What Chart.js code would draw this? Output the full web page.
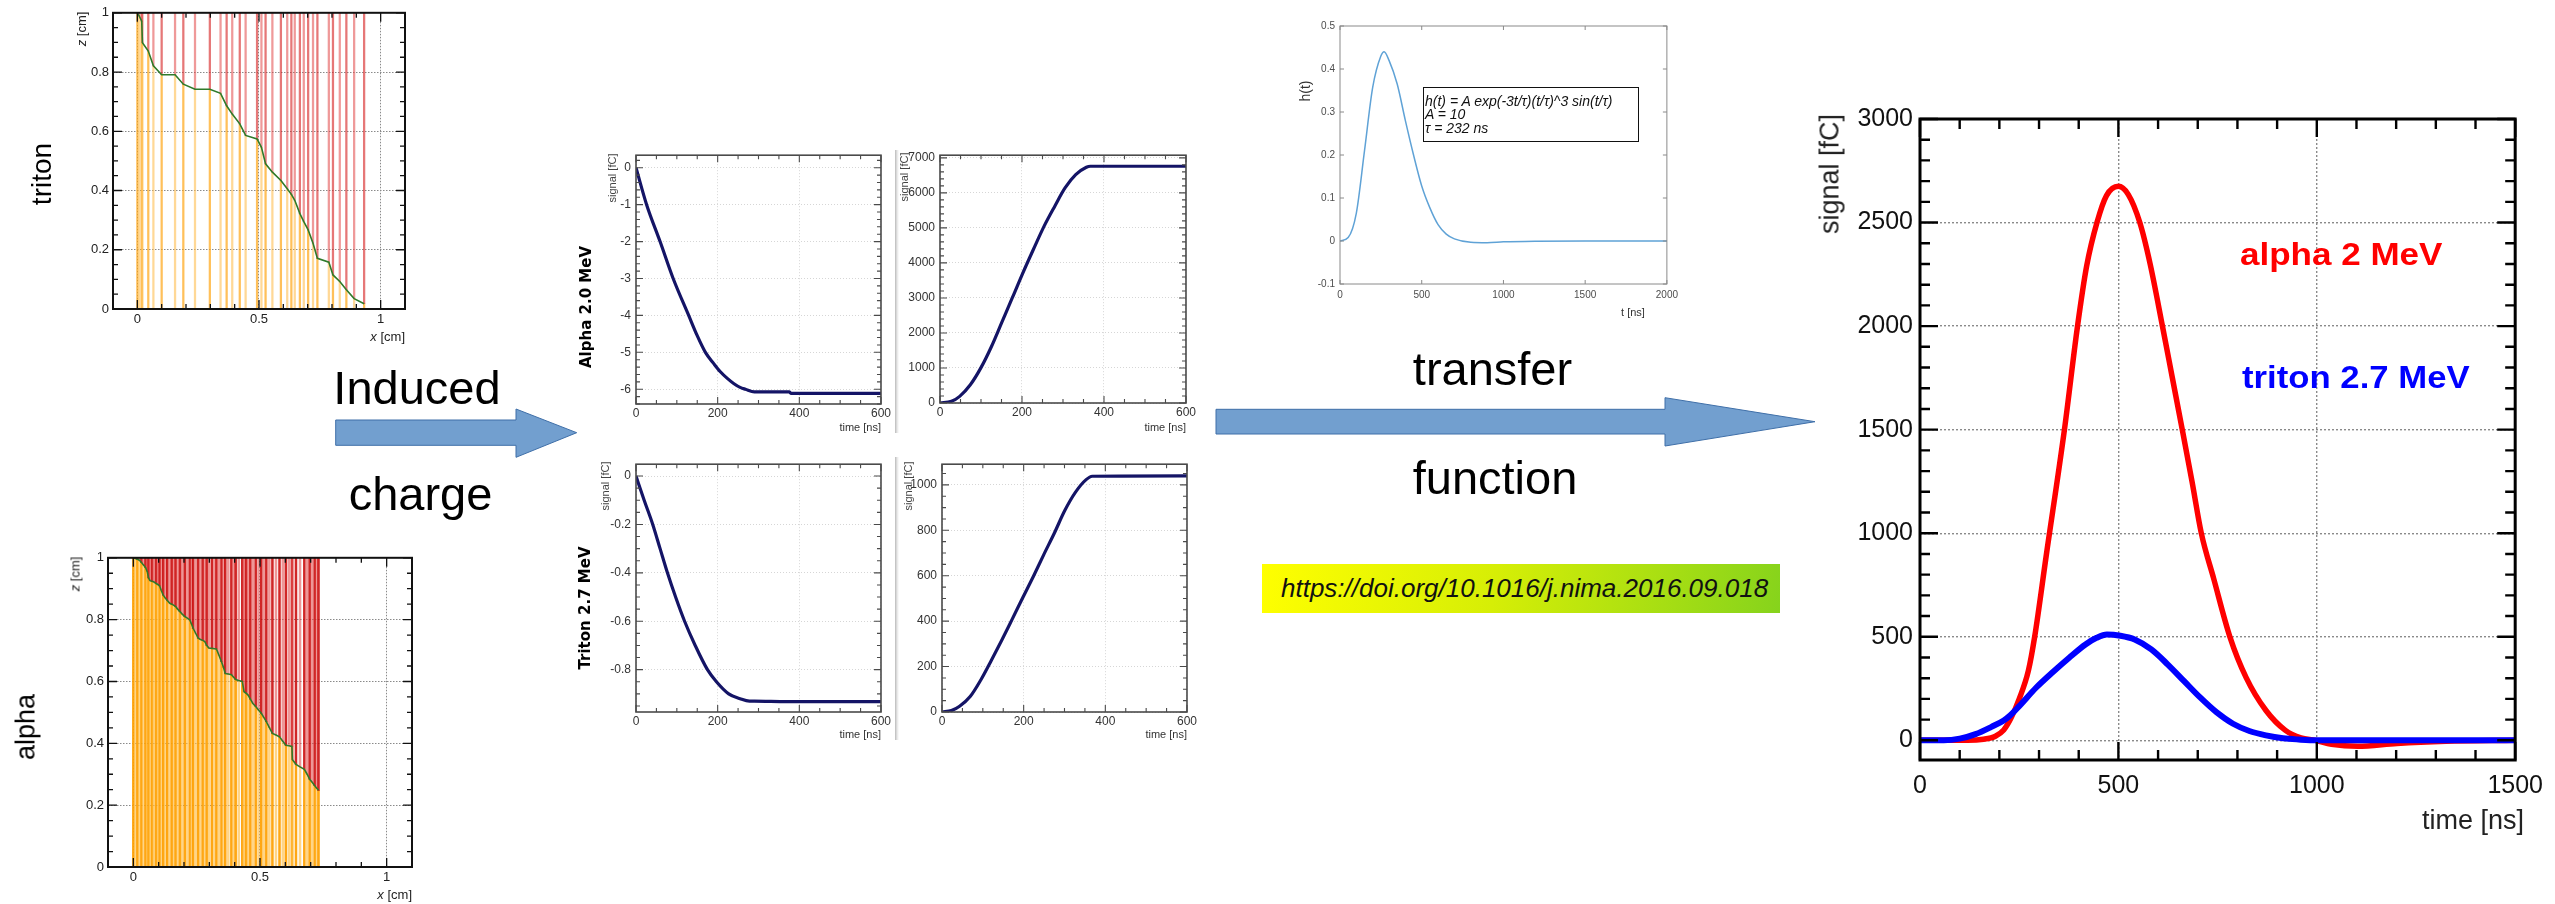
<!DOCTYPE html>
<html>
<head>
<meta charset="utf-8">
<title>Signal formation: induced charge and shaped output</title>
<script src="https://cdn.jsdelivr.net/npm/chart.js@4.4.1/dist/chart.umd.min.js"></script>
<style>
  html, body { margin: 0; padding: 0; background: #fff; }
  #stage { position: relative; width: 2555px; height: 904px; overflow: hidden; background: #fff;
           font-family: 'Liberation Sans', Arial, sans-serif; }
  .pane { position: absolute; }
  .lbl { position: absolute; white-space: nowrap; line-height: 1; }
  svg.arrow { position: absolute; left: 0; top: 0; overflow: visible; }
</style>
</head>
<body>
<div id="stage"></div>
<script>
// ---------- data ----------
// track trajectory in the gas gap: x [cm], z [cm]; drift lines hang off each vertex
const tritonTrackX = [0, 0.008, 0.018, 0.021, 0.045, 0.066, 0.100, 0.155, 0.189, 0.237, 0.298, 0.342, 0.367, 0.390,
  0.421, 0.445, 0.492, 0.510, 0.527, 0.555, 0.590, 0.616, 0.633, 0.647, 0.668, 0.684, 0.702, 0.722, 0.740, 0.787,
  0.804, 0.832, 0.859, 0.891, 0.932];
const tritonTrackZ = [1.000, 0.989, 0.972, 0.899, 0.871, 0.821, 0.791, 0.791, 0.759, 0.742, 0.742, 0.728, 0.686, 0.658,
  0.625, 0.586, 0.574, 0.546, 0.490, 0.462, 0.434, 0.406, 0.387, 0.367, 0.322, 0.295, 0.267, 0.222, 0.171, 0.158,
  0.115, 0.093, 0.065, 0.035, 0.018];

const alphaTrackX = [0, 0.008, 0.016, 0.024, 0.032, 0.040, 0.048, 0.055, 0.060, 0.066, 0.074, 0.081, 0.090, 0.098,
  0.104, 0.110, 0.118, 0.126, 0.134, 0.144, 0.152, 0.160, 0.167, 0.175, 0.184, 0.193, 0.203, 0.213, 0.223, 0.230,
  0.236, 0.246, 0.256, 0.265, 0.274, 0.282, 0.290, 0.298, 0.310, 0.320, 0.328, 0.338, 0.348, 0.356, 0.363, 0.375,
  0.387, 0.396, 0.404, 0.416, 0.430, 0.437, 0.445, 0.453, 0.462, 0.472, 0.483, 0.494, 0.505, 0.515, 0.525, 0.537,
  0.549, 0.563, 0.577, 0.590, 0.602, 0.614, 0.626, 0.628, 0.642, 0.658, 0.675, 0.686, 0.696, 0.706, 0.716, 0.724, 0.731];
const alphaTrackZ = [1.000, 0.998, 0.995, 0.992, 0.985, 0.977, 0.969, 0.955, 0.935, 0.926, 0.924, 0.922, 0.917, 0.913,
  0.909, 0.895, 0.879, 0.870, 0.862, 0.853, 0.850, 0.846, 0.842, 0.834, 0.826, 0.818, 0.810, 0.805, 0.799, 0.785,
  0.772, 0.756, 0.740, 0.736, 0.733, 0.729, 0.716, 0.708, 0.707, 0.706, 0.705, 0.685, 0.664, 0.645, 0.626, 0.624,
  0.622, 0.614, 0.606, 0.603, 0.600, 0.567, 0.562, 0.556, 0.543, 0.529, 0.519, 0.508, 0.497, 0.484, 0.470, 0.451,
  0.432, 0.427, 0.421, 0.407, 0.394, 0.392, 0.390, 0.347, 0.332, 0.324, 0.316, 0.300, 0.284, 0.274, 0.263, 0.255, 0.248];

// induced charge on the electrode, time [ns] vs signal
const alphaNegT = [0, 26, 59, 91, 129, 150, 170, 190, 206, 225, 240, 255, 268, 290, 375, 380, 600];
const alphaNegQ = [0, -1, -2, -3, -4, -4.55, -5, -5.3, -5.52, -5.72, -5.85, -5.95, -6.0, -6.07, -6.07, -6.11, -6.11];
const alphaPosT = [0, 28, 48, 74, 100, 125, 151, 177, 202, 228, 254, 280, 305, 331, 357, 367, 600];
const alphaPosQ = [0, 47, 190, 520, 1010, 1600, 2310, 3020, 3710, 4390, 5050, 5620, 6140, 6520, 6730, 6760, 6760];
const tritonNegT = [0, 20, 41, 59, 77, 97, 119, 145, 175, 197, 227, 255, 278, 290, 370, 600];
const tritonNegQ = [0, -0.1, -0.2, -0.3, -0.4, -0.5, -0.6, -0.7, -0.8, -0.85, -0.9, -0.92, -0.93, -0.93, -0.932, -0.932];
const tritonPosT = [0, 23, 43, 69, 95, 121, 146, 172, 198, 224, 249, 275, 301, 327, 353, 368, 600];
const tritonPosQ = [0, 6, 25, 68, 141, 228, 315, 409, 504, 598, 692, 787, 888, 968, 1023, 1038, 1040];

// shaping (transfer) function h(t)
const transferT = [0, 50, 100, 150, 200, 250, 270, 300, 350, 400, 450, 500, 550, 600, 650, 700, 800, 900, 1000, 1200, 1500, 2000];
const transferH = [0, 0.008, 0.065, 0.21, 0.357, 0.43, 0.44, 0.42, 0.365, 0.28, 0.2, 0.128, 0.077, 0.038, 0.016, 0.005,
  -0.003, -0.004, -0.002, -0.0005, 0, 0];

// shaped output signals [fC]
const alphaOutT = [0, 120, 160, 190, 211, 230, 250, 273, 289, 318, 364, 397, 420, 446, 470, 500, 525, 554, 580, 611,
  636, 661, 686, 709, 740, 781, 822, 872, 921, 960, 996, 1037, 1103, 1202, 1326, 1500];
const alphaOutQ = [0, 0, 5, 20, 50, 110, 200, 335, 500, 890, 1500, 2000, 2290, 2500, 2630, 2675, 2635, 2500, 2300, 2000,
  1750, 1500, 1245, 1000, 782, 500, 303, 144, 48, 12, 0, -19, -29, -15, -5, 0];
const tritonOutT = [0, 60, 100, 140, 180, 211, 227, 250, 293, 335, 376, 417, 445, 471, 505, 541, 583, 624, 665, 706,
  747, 789, 830, 872, 915, 954, 1000, 1500];
const tritonOutQ = [0, 0, 8, 30, 65, 96, 120, 165, 255, 330, 399, 463, 495, 511, 505, 487, 439, 367, 287, 207, 136,
  80, 45, 24, 10, 4, 0, 0];

// tick labels
const trackZTicks = [0, 0.2, 0.4, 0.6, 0.8, 1];
const trackXTicks = [0, 0.5, 1];
const inducedTimeTicks = [0, 200, 400, 600];
const alphaNegTicks = [0, -1, -2, -3, -4, -5, -6];
const alphaPosTicks = [0, 1000, 2000, 3000, 4000, 5000, 6000, 7000];
const tritonNegTicks = [0, -0.2, -0.4, -0.6, -0.8];
const tritonPosTicks = [0, 200, 400, 600, 800, 1000];
const transferTimeTicks = [0, 500, 1000, 1500, 2000];
const transferTicks = [-0.1, 0, 0.1, 0.2, 0.3, 0.4, 0.5];
const outTimeTicks = [0, 500, 1000, 1500];
const outSignalTicks = [0, 500, 1000, 1500, 2000, 2500, 3000];

// ---------- helpers ----------
const stage = document.getElementById('stage');
Chart.defaults.font.family = "'Liberation Sans', Arial, sans-serif";
const NARROW = "'Liberation Sans Narrow', 'Liberation Sans', Arial, sans-serif";

const pts = (xs, ys) => xs.map((x, i) => ({ x, y: ys[i] }));

function stepsIn(min, max, step) {
  const out = [];
  for (let k = Math.ceil(min / step - 1e-9); k * step <= max + 1e-9; k++) out.push(k * step);
  return out;
}

// frame box with inward tick marks on all four sides
function framePlugin(f) {
  return {
    id: 'frameBox',
    afterDatasetsDraw(chart) {
      const { ctx, chartArea: a, scales: { x, y } } = chart;
      ctx.save();
      ctx.strokeStyle = f.color;
      ctx.lineWidth = f.tickW;
      ctx.beginPath();
      const tx = (vals, len) => vals.forEach(v => {
        const p = x.getPixelForValue(v);
        if (p < a.left - 0.5 || p > a.right + 0.5) return;
        ctx.moveTo(p, a.bottom); ctx.lineTo(p, a.bottom - len);
        ctx.moveTo(p, a.top); ctx.lineTo(p, a.top + len);
      });
      const ty = (vals, len) => vals.forEach(v => {
        const p = y.getPixelForValue(v);
        if (p < a.top - 0.5 || p > a.bottom + 0.5) return;
        ctx.moveTo(a.left, p); ctx.lineTo(a.left + len, p);
        ctx.moveTo(a.right, p); ctx.lineTo(a.right - len, p);
      });
      if (f.xMinor) tx(stepsIn(x.min, x.max, f.xMinor), f.minLen);
      if (f.yMinor) ty(stepsIn(y.min, y.max, f.yMinor), f.minLen);
      tx(f.xMajor, f.majLen);
      ty(f.yMajor, f.majLen);
      ctx.stroke();
      ctx.lineWidth = f.frameW;
      ctx.strokeRect(a.left, a.top, a.right - a.left, a.bottom - a.top);
      ctx.restore();
    }
  };
}

function axis(o) {
  return {
    type: 'linear', min: o.min, max: o.max, bounds: 'data', offset: false,
    afterBuildTicks: ax => { ax.ticks = o.ticks.map(v => ({ value: v })); },
    afterFit: ax => { if (o.w != null) ax.width = o.w; if (o.h != null) ax.height = o.h; },
    ticks: { font: o.font, color: o.color, padding: o.pad, maxRotation: 0, minRotation: 0,
             autoSkip: false, callback: v => String(v) },
    grid: o.grid ? { color: o.grid.color, lineWidth: o.grid.width, drawTicks: false, offset: false }
                 : { display: false, drawTicks: false },
    border: { display: false, dash: o.grid ? o.grid.dash : [] }
  };
}

// frame = [left, top, right, bottom] of the plot area in page pixels; pad = [l, t, r, b]
function mount(frame, pad, type, datasets, xo, yo, fr, css) {
  const w = frame[2] - frame[0] + pad[0] + pad[2];
  const h = frame[3] - frame[1] + pad[1] + pad[3];
  const box = document.createElement('div');
  box.className = 'pane';
  Object.assign(box.style, { left: (frame[0] - pad[0]) + 'px', top: (frame[1] - pad[1]) + 'px',
                             width: w + 'px', height: h + 'px' });
  if (css) Object.assign(box.style, css);
  const cv = document.createElement('canvas');
  cv.width = w; cv.height = h; cv.style.width = w + 'px'; cv.style.height = h + 'px';
  box.appendChild(cv);
  stage.appendChild(box);
  xo.h = pad[3]; yo.w = pad[0];
  return new Chart(cv, {
    type, data: { datasets },
    options: {
      responsive: false, maintainAspectRatio: false, animation: false, devicePixelRatio: 1, events: [],
      layout: { padding: { left: 0, top: pad[1], right: pad[2], bottom: 0 } },
      plugins: { legend: { display: false }, tooltip: { enabled: false } },
      scales: { x: axis(xo), y: axis(yo) }
    },
    plugins: [framePlugin(fr)]
  });
}

function text(html, o) {
  const d = document.createElement('div');
  d.className = 'lbl';
  d.innerHTML = html;
  d.style.fontSize = o.size + 'px';
  if (o.family) d.style.fontFamily = o.family;
  if (o.weight) d.style.fontWeight = o.weight;
  if (o.italic) d.style.fontStyle = 'italic';
  d.style.color = o.color || '#000';
  d.style.left = o.x + 'px';
  if (o.rot) {
    d.style.top = o.y + 'px';
    d.style.transform = 'translate(-50%,-50%) rotate(' + o.rot + 'deg)';
  } else {
    d.style.top = (o.base - 0.8465 * o.size) + 'px';
    const shift = o.align === 'center' ? -50 : (o.align === 'right' ? -100 : 0);
    let tf = 'translateX(' + shift + '%)';
    if (o.sx) { tf += ' scaleX(' + o.sx + ')'; d.style.transformOrigin = '0 0'; }
    d.style.transform = tf;
  }
  stage.appendChild(d);
  return d;
}

// ---------- drift-line panels (track in the gap) ----------
function trackPanel(frame, xs, zs, look) {
  const lower = xs.map((x, i) => ({ x, y: [0, zs[i]] }));
  const upper = xs.map((x, i) => ({ x, y: [zs[i], 1] }));
  const datasets = [
    { type: 'line', data: pts(xs, zs), borderColor: '#2f7a2a', borderWidth: 1.6, pointRadius: 0, tension: 0, order: 0 },
    { type: 'line', data: xs.map(x => ({ x, y: 0 })), showLine: false, pointStyle: 'line', pointRadius: look.markR,
      pointBorderColor: '#d00000', pointBorderWidth: 2, order: 1 },
    { type: 'bar', data: upper, grouped: false, barThickness: look.thick, order: 2,
      backgroundColor: xs.map((_, i) => i % 2 ? look.red2 : look.red1) },
    { type: 'bar', data: lower, grouped: false, barThickness: look.thick, order: 3,
      backgroundColor: xs.map((_, i) => i % 2 ? look.org2 : look.org1) }
  ];
  const font = { size: 13 }, grid = { color: '#8a8a8a', width: 1, dash: [1.5, 1.5] };
  mount(frame, [45, 10, 8, 28], 'bar', datasets,
    { min: -0.1, max: 1.1, ticks: trackXTicks, font, color: '#222', pad: 3, grid },
    { min: 0, max: 1, ticks: trackZTicks, font, color: '#222', pad: 4, grid },
    { color: '#111', frameW: 2, tickW: 1.3, majLen: 9, minLen: 5, xMajor: trackXTicks, yMajor: trackZTicks,
      xMinor: 0.1, yMinor: 0.05 });
}

trackPanel([113, 11, 405, 309], tritonTrackX, tritonTrackZ,
  { thick: 1.6, markR: 2, red1: 'rgba(215,35,35,0.62)', red2: 'rgba(225,70,70,0.55)',
    org1: 'rgba(255,165,20,0.7)', org2: 'rgba(255,190,80,0.6)' });
trackPanel([108, 556, 412, 867], alphaTrackX, alphaTrackZ,
  { thick: 1.9, markR: 2.5, red1: 'rgba(200,0,0,0.85)', red2: 'rgba(226,80,80,0.6)',
    org1: 'rgba(255,160,0,0.92)', org2: 'rgba(255,190,70,0.65)' });

// ---------- induced charge panels ----------
function inducedPanel(frame, padL, ts, qs, yMin, yMax, yTicks, yMinor) {
  const font = { size: 12, family: NARROW };
  const grid = { color: '#d6d6d6', width: 1, dash: [1, 2] };
  mount(frame, [padL, 10, 12, 24], 'line',
    [{ data: pts(ts, qs), borderColor: '#141466', borderWidth: 3.2, pointRadius: 0,
       cubicInterpolationMode: 'monotone' }],
    { min: 0, max: 600, ticks: inducedTimeTicks, font, color: '#333', pad: 2, grid },
    { min: yMin, max: yMax, ticks: yTicks, font, color: '#333', pad: 5, grid },
    { color: '#4a4a4a', frameW: 1.6, tickW: 1.1, majLen: 7, minLen: 4, xMajor: inducedTimeTicks, yMajor: yTicks,
      xMinor: 50, yMinor },
    { filter: 'blur(0.35px)' });
}
inducedPanel([636, 153, 881, 404], 36, alphaNegT, alphaNegQ, -6.4, 0.34, alphaNegTicks, 0.2);
inducedPanel([940, 153, 1186, 403], 40, alphaPosT, alphaPosQ, 0, 7076, alphaPosTicks, 200);
inducedPanel([636, 462, 881, 712], 40, tritonNegT, tritonNegQ, -0.975, 0.049, tritonNegTicks, 0.05);
inducedPanel([942, 462, 1187, 712], 40, tritonPosT, tritonPosQ, 0, 1091, tritonPosTicks, 50);

// ---------- transfer function panel ----------
mount([1340, 25, 1667, 284], [30, 10, 16, 22], 'line',
  [{ data: pts(transferT, transferH), borderColor: '#5fa2d6', borderWidth: 1.5, pointRadius: 0,
     cubicInterpolationMode: 'monotone' }],
  { min: 0, max: 2000, ticks: transferTimeTicks, font: { size: 10 }, color: '#4d4d4d', pad: 5 },
  { min: -0.1, max: 0.5, ticks: transferTicks, font: { size: 10 }, color: '#4d4d4d', pad: 5 },
  { color: '#8a8a8a', frameW: 1, tickW: 1, majLen: 4, minLen: 0, xMajor: transferTimeTicks, yMajor: transferTicks });

// ---------- shaped output panel ----------
mount([1920, 113, 2524, 760], [75, 16, 30, 46], 'line',
  [{ data: pts(tritonOutT, tritonOutQ), borderColor: '#0000ff', borderWidth: 6, pointRadius: 0,
     cubicInterpolationMode: 'monotone', order: 0 },
   { data: pts(alphaOutT, alphaOutQ), borderColor: '#ff0000', borderWidth: 5.5, pointRadius: 0,
     cubicInterpolationMode: 'monotone', order: 1 }],
  { min: 0, max: 1500, ticks: outTimeTicks, font: { size: 25 }, color: '#111', pad: 11,
    grid: { color: '#8a8a8a', width: 1.4, dash: [2, 2] } },
  { min: -95, max: 3000, ticks: outSignalTicks, font: { size: 25 }, color: '#111', pad: 7,
    grid: { color: '#8a8a8a', width: 1.4, dash: [2, 2] } },
  { color: '#000', frameW: 3, tickW: 2.4, majLen: 18, minLen: 10, xMajor: outTimeTicks, yMajor: outSignalTicks,
    xMinor: 100, yMinor: 100 });

// ---------- separators between the pasted panels ----------
[[150, 283], [457, 283]].forEach(([top, h]) => {
  const d = document.createElement('div');
  Object.assign(d.style, { position: 'absolute', left: '895px', top: top + 'px', width: '4px', height: h + 'px',
    background: 'linear-gradient(to right, #b9b9b9, #e4e4e4, rgba(255,255,255,0))' });
  stage.appendChild(d);
});

// ---------- arrows ----------
const svgNS = 'http://www.w3.org/2000/svg';
const svg = document.createElementNS(svgNS, 'svg');
svg.setAttribute('class', 'arrow');
svg.setAttribute('width', '2555'); svg.setAttribute('height', '904');
[
  '335.7,420 516,420 516,409 576.7,432.7 516,457.3 516,445.3 335.7,445.3',
  '1216,409.3 1665,409.3 1665,397.7 1815,421.7 1665,446 1665,434 1216,434'
].forEach(p => {
  const poly = document.createElementNS(svgNS, 'polygon');
  poly.setAttribute('points', p);
  poly.setAttribute('fill', '#729fcf');
  poly.setAttribute('stroke', '#3f6fa8');
  poly.setAttribute('stroke-width', '1');
  svg.appendChild(poly);
});
stage.appendChild(svg);

// ---------- DOI banner ----------
const doi = document.createElement('div');
Object.assign(doi.style, { position: 'absolute', left: '1262px', top: '564px', width: '518px', height: '49px',
  background: 'linear-gradient(100deg, #ffff00 0%, #d6ee06 45%, #86d31c 100%)' });
stage.appendChild(doi);
text('https://doi.org/10.1016/j.nima.2016.09.018', { x: 1281, base: 596.7, size: 26, italic: true, color: '#111' });

// ---------- transfer-function legend box ----------
const box = document.createElement('div');
Object.assign(box.style, { position: 'absolute', left: '1423px', top: '87px', width: '214px', height: '53px',
  border: '1.5px solid #111', background: '#fff' });
stage.appendChild(box);
text('h(t) = A exp(-3t/τ)(t/τ)^3 sin(t/τ)', { x: 1425, base: 105.5, size: 14, italic: true, color: '#111' });
text('A = 10', { x: 1425, base: 119, size: 14, italic: true, color: '#111' });
text('τ = 232 ns', { x: 1425, base: 132.5, size: 14, italic: true, color: '#111' });

// ---------- captions and axis titles ----------
text('triton', { x: 42, y: 174, size: 28, rot: -90 });
text('alpha', { x: 26, y: 727, size: 27, rot: -90 });
text('<i>z</i> [cm]', { x: 81, y: 29, size: 13, rot: -90, color: '#222' });
text('<i>z</i> [cm]', { x: 75, y: 574, size: 13, rot: -90, color: '#222' });
text('<i>x</i> [cm]', { x: 405, base: 341.5, size: 13, align: 'right', color: '#222' });
text('<i>x</i> [cm]', { x: 412, base: 899.5, size: 13, align: 'right', color: '#222' });

text('Induced', { x: 417, base: 403.3, size: 47, align: 'center' });
text('charge', { x: 420.5, base: 510, size: 47, align: 'center' });
text('transfer', { x: 1492.5, base: 385, size: 47, align: 'center' });
text('function', { x: 1495, base: 493.3, size: 47, align: 'center' });

text('Alpha 2.0 MeV', { x: 586, y: 307, size: 15, weight: 'bold', rot: -90, family: "'DejaVu Sans', sans-serif" });
text('Triton 2.7 MeV', { x: 585, y: 608, size: 15, weight: 'bold', rot: -90, family: "'DejaVu Sans', sans-serif" });
[[612, 178], [904, 177], [605, 486], [908, 486]].forEach(([x, y]) =>
  text('signal [fC]', { x, y, size: 11, rot: -90, color: '#444', family: NARROW }));
[[881, 431], [1186, 431], [881, 738.5], [1187, 738.5]].forEach(([x, b]) =>
  text('time [ns]', { x, base: b, size: 11, align: 'right', color: '#333', family: NARROW }));

text('h(t)', { x: 1305, y: 91, size: 14, rot: -90, color: '#333' });
text('t [ns]', { x: 1633, base: 316.5, size: 11, align: 'center', color: '#333' });

text('signal [fC]', { x: 1829.5, y: 174, size: 27, rot: -90, color: '#222' });
text('time [ns]', { x: 2524, base: 830, size: 27, align: 'right', color: '#222' });
text('alpha 2 MeV', { x: 2240, base: 265, size: 31, weight: 'bold', color: '#ff0000', sx: 1.13 });
text('triton 2.7 MeV', { x: 2242, base: 388, size: 31, weight: 'bold', color: '#0000ff', sx: 1.12 });
</script>
</body>
</html>
